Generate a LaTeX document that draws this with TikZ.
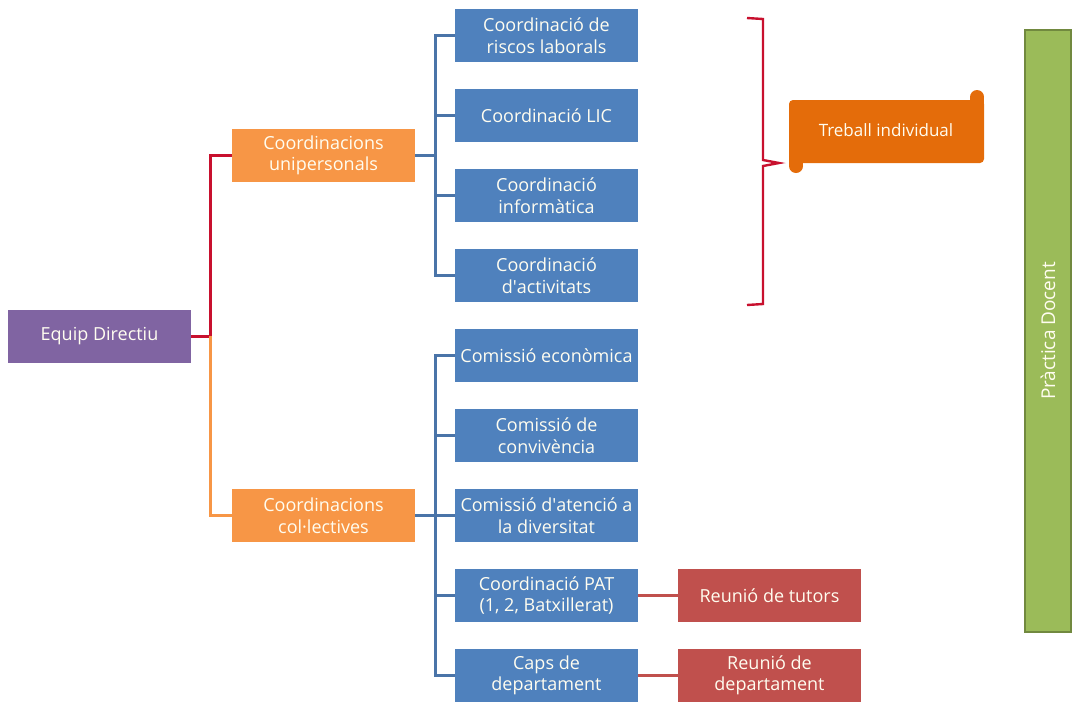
\documentclass[tikz,border=0pt]{standalone}
\usepackage{fontspec}
\setmainfont{Open Sans}
\definecolor{purp}{HTML}{8064A2}
\definecolor{orng}{HTML}{F79646}
\definecolor{blu}{HTML}{4F81BD}
\definecolor{bluline}{HTML}{4A74A8}
\definecolor{redb}{HTML}{C0504D}
\definecolor{redline}{HTML}{C8102E}
\definecolor{scroll}{HTML}{E46C0A}
\definecolor{grn}{HTML}{9BBB59}
\definecolor{grnline}{HTML}{71893F}
\definecolor{txt}{HTML}{FFFDF0}
\begin{document}
\begin{tikzpicture}[x=1pt,y=-1pt,
  box/.style={minimum width=183pt,minimum height=53pt,inner sep=0pt,align=center,
    text=txt,font=\fontsize{18}{21.5}\selectfont},
  bbox/.style={box,fill=blu},
  obox/.style={box,fill=orng},
  rbox/.style={box,fill=redb},
  bline/.style={draw=bluline,line width=3pt},
]
\useasboundingbox (0,0) rectangle (1073,702);
% main
\node[box,fill=purp] (ed) at (99.5,336) {Equip Directiu};
\node[obox] (cu) at (323.5,155.5) {Coordinacions\\unipersonals};
\node[obox] (cc) at (323.5,515.5) {Coordinacions\\col·lectives};
% blue children
\node[bbox] (b1) at (546.5,35.5) {Coordinació de\\riscos laborals};
\node[bbox] (b2) at (546.5,115.5) {Coordinació LIC};
\node[bbox] (b3) at (546.5,195.5) {Coordinació\\informàtica};
\node[bbox] (b4) at (546.5,275.5) {Coordinació\\d\textquotesingle activitats};
\node[bbox] (b5) at (546.5,355.5) {Comissió econòmica};
\node[bbox] (b6) at (546.5,435.5) {Comissió de\\convivència};
\node[bbox] (b7) at (546.5,515.5) {Comissió d\textquotesingle atenció a\\la diversitat};
\node[bbox] (b8) at (546.5,595.5) {Coordinació PAT\\(1, 2, Batxillerat)};
\node[bbox] (b9) at (546.5,675.5) {Caps de\\departament};
\node[rbox] (r1) at (769.5,595.5) {Reunió de tutors};
\node[rbox] (r2) at (769.5,675.5) {Reunió de\\departament};
% connectors from Equip Directiu
\coordinate (j) at (210,336);
\draw[redline,line width=3pt] (ed.east) -- (j) |- (cu.west);
\draw[orng,line width=3pt] (j) |- (cc.west);
% unipersonals tree
\coordinate (ju) at (435,155.5);
\draw[bline] (cu.east) -- (ju);
\draw[bline] (b1.west) -| (ju) |- (b4.west);
\draw[bline] (ju) |- (b2.west);
\draw[bline] (ju) |- (b3.west);
% collectives tree
\coordinate (jc) at (435,515.5);
\draw[bline] (cc.east) -- (jc);
\draw[bline] (b5.west) -| (jc) |- (b9.west);
\draw[bline] (jc) |- (b6.west);
\draw[bline] (jc) -- (b7.west);
\draw[bline] (jc) |- (b8.west);
% red links
\draw[redb,line width=3pt] (b8.east) -- (r1.west);
\draw[redb,line width=3pt] (b9.east) -- (r2.west);
% brace
\draw[redline,line width=2.4pt,line join=miter] (747,18) -- (763,19) -- (763,160) -- (779,163) -- (763,166) -- (763,304) -- (747,305);
% scroll
\fill[scroll,rounded corners=4pt] (789,100) rectangle (984,163);
\fill[scroll] (977,97) circle (7pt);
\fill[scroll] (970,97) rectangle (984,110);
\fill[scroll] (796,166) circle (7pt);
\fill[scroll] (789,150) rectangle (803,166);
\node[text=txt,font=\fontsize{17}{20}\selectfont] (ti) at (886,130) {Treball individual};
% green bar
\node[draw=grnline,fill=grn,line width=1.5pt,minimum width=46pt,minimum height=602pt,inner sep=0pt] (pd) at (1048,331) {};
\node[rotate=90,text=txt,font=\fontsize{19}{22}\selectfont] at (pd.center) {Pràctica Docent};
\end{tikzpicture}
\end{document}
